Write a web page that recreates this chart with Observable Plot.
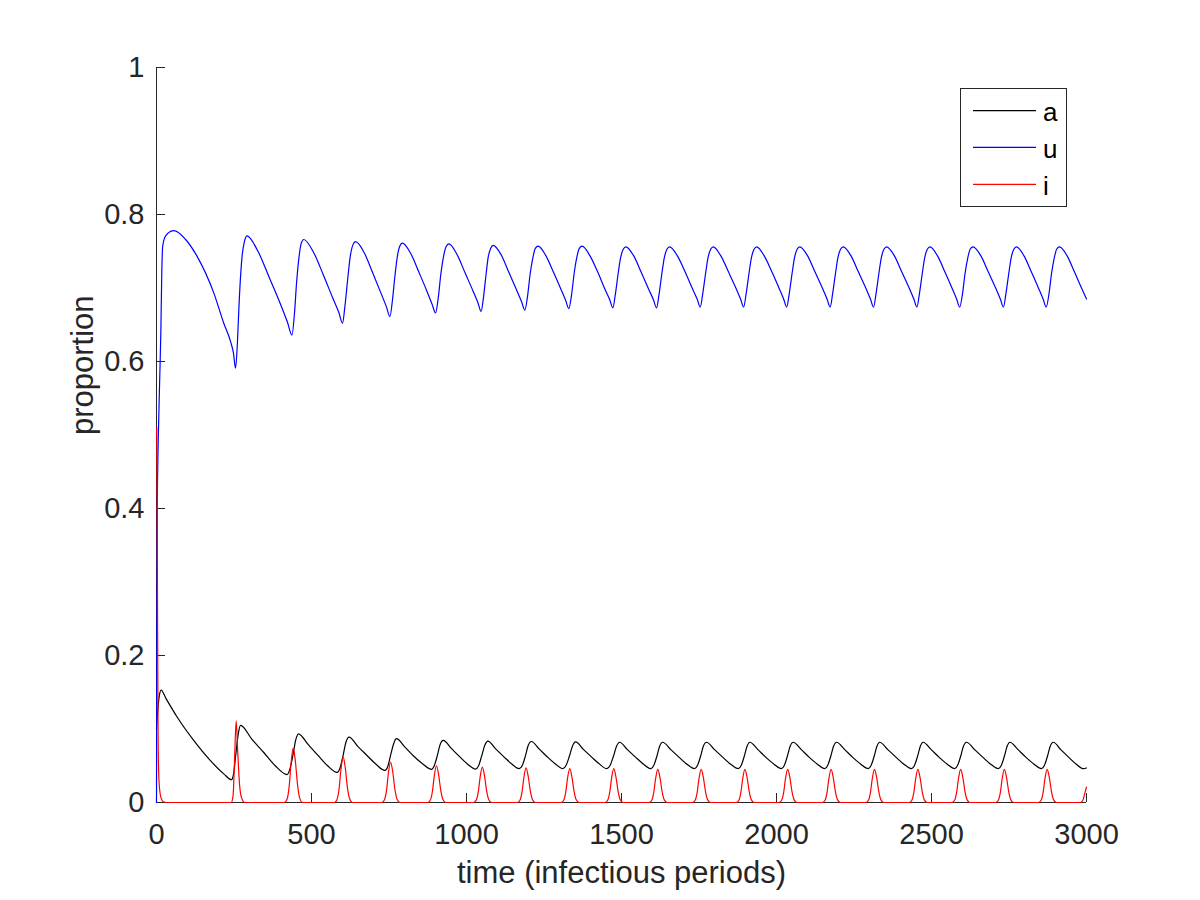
<!DOCTYPE html>
<html>
<head>
<meta charset="utf-8">
<script src="https://cdn.jsdelivr.net/npm/d3@7"></script>
<script src="https://cdn.jsdelivr.net/npm/@observablehq/plot@0.6"></script>
<style>
  body { margin: 0; background: #fff; }
  #wrap { position: relative; width: 1200px; height: 900px; background: #fff; font-family: "Liberation Sans", Arial, Helvetica, sans-serif; }
  #legend { position: absolute; left: 960px; top: 88px; width: 105px; height: 117px; border: 1px solid #262626; background: #fff; }
  #legend svg { display: block; }
</style>
</head>
<body>
<div id="wrap"><div id="legend"></div></div>
<script>
const timeTicks = [0, 500, 1000, 1500, 2000, 2500, 3000];
const propTicks = [0, 0.2, 0.4, 0.6, 0.8, 1];
const seriesNames = ["a", "u", "i"];
const seriesColors = ["#000000", "#0000ff", "#ff0000"];
const xLabel = "time (infectious periods)";
const yLabel = "proportion";

// a (black): [time, proportion]
const aPoints = [
  [0,0.100],[4,0.125],[9,0.145],[15,0.153],[30,0.142],[67,0.116],[120,0.0845],[174,0.057],[217,0.039],[242,0.031],
  [249,0.040],[256,0.066],[264,0.094],[271,0.105],
  [308,0.086],[346,0.068],[383,0.050],[421,0.038],
  [430,0.045],[440,0.064],[449,0.085],[458,0.0935],
  [489,0.079],[521,0.064],[552,0.050],[583,0.041],
  [592,0.047],[602,0.064],[611,0.082],[621,0.089],
  [650,0.076],[679,0.064],[708,0.052],[737,0.0436],
  [746,0.049],[755,0.064],[765,0.080],[774,0.0868],
  [802,0.075],[830,0.063],[859,0.0525],[887,0.045],
  [896,0.050],[906,0.064],[915,0.079],[925,0.0845],
  [951,0.0736],[977,0.0627],[1003,0.0525],[1029,0.0455],
  [1039,0.050],[1049,0.0634],[1059,0.0778],[1069,0.0835],
  [1094,0.073],[1120,0.0625],[1145,0.0527],[1170,0.046],
  [1180,0.0504],[1190,0.0634],[1199,0.0775],[1209,0.083],
  [1235,0.0726],[1260,0.0623],[1286,0.0527],[1311,0.046],
  [1321,0.0504],[1332,0.0632],[1342,0.077],[1352,0.0825],
  [1377,0.0723],[1403,0.0621],[1428,0.0526],[1453,0.046],
  [1463,0.0503],[1474,0.0629],[1484,0.0766],[1494,0.082],
  [1519,0.0719],[1545,0.0618],[1570,0.0525],[1595,0.046],
  [1604,0.0503],[1614,0.0629],[1623,0.0766],[1633,0.082],
  [1659,0.0719],[1685,0.0618],[1710,0.0525],[1736,0.046],
  [1745,0.0503],[1755,0.0629],[1764,0.0766],[1774,0.082],
  [1800,0.0719],[1826,0.0618],[1851,0.0525],[1877,0.046],
  [1886,0.0503],[1896,0.0629],[1905,0.0766],[1914,0.082],
  [1940,0.0719],[1965,0.0618],[1991,0.0525],[2016,0.046],
  [2025,0.0503],[2035,0.0629],[2044,0.0766],[2054,0.082],
  [2080,0.0719],[2105,0.0618],[2131,0.0525],[2156,0.046],
  [2165,0.0503],[2175,0.0629],[2184,0.0766],[2194,0.082],
  [2220,0.0719],[2245,0.0618],[2271,0.0525],[2296,0.046],
  [2305,0.0503],[2315,0.0629],[2324,0.0766],[2333,0.082],
  [2359,0.0719],[2385,0.0618],[2410,0.0525],[2436,0.046],
  [2445,0.0503],[2455,0.0629],[2464,0.0766],[2473,0.082],
  [2499,0.0719],[2524,0.0618],[2550,0.0525],[2575,0.046],
  [2584,0.0503],[2594,0.0629],[2603,0.0766],[2613,0.082],
  [2639,0.0719],[2665,0.0618],[2690,0.0525],[2716,0.046],
  [2725,0.0503],[2735,0.0629],[2744,0.0766],[2753,0.082],
  [2779,0.0719],[2804,0.0618],[2830,0.0525],[2855,0.046],
  [2864,0.0503],[2874,0.0629],[2883,0.0766],[2893,0.082],
  [2917,0.0719],[2942,0.0618],[2966,0.0525],[2990,0.046],[3000,0.047]
];

// u (blue)
const uPoints = [
  [0,0.0],[2,0.38],[6,0.50],[10,0.57],[14,0.64],[17,0.72],[20,0.757],[27,0.769],[38,0.775],[56,0.778],
  [94,0.766],[131,0.743],[185,0.693],[217,0.652],[239,0.627],[248,0.612],[255,0.591],
  [261,0.625],[266,0.675],[276,0.743],[284,0.764],[292,0.771],
  [326,0.751],[364,0.714],[401,0.677],[422,0.654],[437,0.636],
  [445,0.665],[452,0.708],[460,0.743],[467,0.761],[475,0.766],
  [506,0.749],[538,0.718],[569,0.686],[588,0.667],[600,0.652],
  [608,0.676],[617,0.713],[625,0.743],[634,0.759],[642,0.763],
  [670,0.748],[698,0.720],[725,0.692],[742,0.674],[753,0.661],
  [761,0.683],[769,0.716],[777,0.743],[785,0.757],[793,0.761],
  [820,0.747],[847,0.721],[873,0.695],[889,0.678],[900,0.666],
  [909,0.687],[917,0.718],[926,0.743],[934,0.756],[943,0.760],
  [969,0.746],[995,0.721],[1021,0.696],[1037,0.680],[1047,0.668],
  [1055,0.688],[1063,0.718],[1070,0.742],[1078,0.754],[1086,0.758],
  [1112,0.745],[1137,0.721],[1163,0.696],[1178,0.681],[1188,0.670],
  [1197,0.689],[1205,0.718],[1214,0.741],[1222,0.754],[1231,0.757],
  [1256,0.744],[1281,0.721],[1305,0.698],[1320,0.683],[1330,0.672],
  [1339,0.691],[1347,0.719],[1356,0.742],[1364,0.754],[1373,0.757],
  [1398,0.744],[1423,0.722],[1447,0.698],[1462,0.684],[1472,0.673],
  [1480,0.691],[1489,0.719],[1497,0.741],[1506,0.753],[1514,0.756],
  [1539,0.744],[1564,0.721],[1588,0.698],[1603,0.684],[1613,0.673],
  [1621,0.691],[1630,0.719],[1638,0.741],[1647,0.753],[1655,0.756],
  [1680,0.744],[1705,0.722],[1729,0.699],[1744,0.685],[1754,0.674],
  [1762,0.692],[1771,0.719],[1779,0.741],[1788,0.753],[1796,0.756],
  [1820,0.744],[1845,0.722],[1870,0.699],[1884,0.685],[1894,0.674],
  [1902,0.692],[1911,0.719],[1919,0.741],[1928,0.753],[1936,0.756],
  [1960,0.744],[1985,0.722],[2009,0.699],[2023,0.685],[2033,0.674],
  [2041,0.692],[2050,0.719],[2058,0.741],[2067,0.753],[2075,0.756],
  [2100,0.744],[2124,0.722],[2149,0.699],[2163,0.685],[2173,0.674],
  [2181,0.692],[2190,0.719],[2198,0.741],[2207,0.753],[2215,0.756],
  [2240,0.744],[2264,0.722],[2289,0.699],[2303,0.685],[2313,0.674],
  [2321,0.692],[2330,0.719],[2338,0.741],[2347,0.753],[2355,0.756],
  [2380,0.744],[2404,0.722],[2429,0.699],[2443,0.685],[2453,0.674],
  [2461,0.692],[2470,0.719],[2478,0.741],[2487,0.753],[2495,0.756],
  [2519,0.744],[2543,0.722],[2567,0.699],[2581,0.685],[2591,0.674],
  [2600,0.692],[2608,0.719],[2617,0.741],[2625,0.753],[2634,0.756],
  [2659,0.744],[2683,0.722],[2708,0.699],[2722,0.685],[2732,0.674],
  [2740,0.692],[2749,0.719],[2757,0.741],[2766,0.753],[2774,0.756],
  [2798,0.744],[2822,0.722],[2846,0.699],[2860,0.685],[2870,0.674],
  [2879,0.692],[2887,0.719],[2896,0.741],[2904,0.753],[2913,0.756],
  [2937,0.744],[2961,0.722],[2985,0.699],[3000,0.685]
];

// i (red)
const iPoints = [
  [0,0.50],[1,0.51],[3,0.30],[5,0.10],[7,0.04],[10,0.018],[15,0.006],[22,0.001],[32,0],
  [241,0],[247,0.009],[252,0.061],[257,0.111],[262,0.069],[268,0.024],[274,0.007],[285,0],
  [413,0],[421,0.0044],[428,0.022],[434,0.053],[441,0.074],[448,0.056],[455,0.024],[462,0.006],[471,0],
  [574,0],[582,0.0037],[589,0.019],[595,0.045],[602,0.062],[609,0.047],[616,0.020],[623,0.005],[632,0],
  [727,0],[735,0.0033],[742,0.0165],[748,0.040],[755,0.055],[762,0.042],[769,0.018],[776,0.0044],[785,0],
  [875,0],[883,0.003],[890,0.015],[896,0.036],[903,0.050],[910,0.038],[917,0.0165],[924,0.004],[933,0],
  [1023,0],[1031,0.0029],[1038,0.0144],[1044,0.0346],[1051,0.048],[1058,0.0365],[1065,0.0158],[1072,0.0038],[1081,0],
  [1164,0],[1172,0.0028],[1179,0.0141],[1185,0.0338],[1192,0.047],[1199,0.0357],[1206,0.0155],[1213,0.0038],[1222,0],
  [1305,0],[1313,0.0028],[1320,0.0138],[1326,0.0331],[1333,0.046],[1340,0.035],[1347,0.0152],[1354,0.0037],[1363,0],
  [1447,0],[1455,0.0028],[1462,0.0138],[1468,0.0331],[1475,0.046],[1482,0.035],[1489,0.0152],[1496,0.0037],[1505,0],
  [1589,0],[1597,0.0027],[1604,0.0135],[1610,0.0324],[1617,0.045],[1624,0.0342],[1631,0.0149],[1638,0.0036],[1647,0],
  [1729,0],[1737,0.0027],[1744,0.0135],[1750,0.0324],[1757,0.045],[1764,0.0342],[1771,0.0149],[1778,0.0036],[1787,0],
  [1870,0],[1878,0.0027],[1885,0.0135],[1891,0.0324],[1898,0.045],[1905,0.0342],[1912,0.0149],[1919,0.0036],[1928,0],
  [2008,0],[2016,0.0027],[2023,0.0135],[2029,0.0324],[2036,0.045],[2043,0.0342],[2050,0.0149],[2057,0.0036],[2066,0],
  [2148,0],[2156,0.0027],[2163,0.0135],[2169,0.0324],[2176,0.045],[2183,0.0342],[2190,0.0149],[2197,0.0036],[2206,0],
  [2288,0],[2296,0.0027],[2303,0.0135],[2309,0.0324],[2316,0.045],[2323,0.0342],[2330,0.0149],[2337,0.0036],[2346,0],
  [2428,0],[2436,0.0027],[2443,0.0135],[2449,0.0324],[2456,0.045],[2463,0.0342],[2470,0.0149],[2477,0.0036],[2486,0],
  [2566,0],[2574,0.0027],[2581,0.0135],[2587,0.0324],[2594,0.045],[2601,0.0342],[2608,0.0149],[2615,0.0036],[2624,0],
  [2707,0],[2715,0.0027],[2722,0.0135],[2728,0.0324],[2735,0.045],[2742,0.0342],[2749,0.0149],[2756,0.0036],[2765,0],
  [2845,0],[2853,0.0027],[2860,0.0135],[2866,0.0324],[2873,0.045],[2880,0.0342],[2887,0.0149],[2894,0.0036],[2903,0],
  [2980,0],[2988,0.0027],[2995,0.0135],[3000,0.021]
];

const seriesPoints = [aPoints, uPoints, iPoints];
const axisColor = "#262626";
const font = '"Liberation Sans", Arial, Helvetica, sans-serif';

const lineMarks = seriesPoints.map((pts, k) =>
  Plot.line(pts, {x: d => d[0], y: d => d[1], stroke: seriesColors[k], strokeWidth: 1.2, curve: "monotone-x"})
);

const chart = Plot.plot({
  width: 1200,
  height: 900,
  marginLeft: 156,
  marginRight: 114,
  marginTop: 67,
  marginBottom: 98,
  x: {domain: [0, 3000]},
  y: {domain: [0, 1]},
  style: {fontFamily: font, background: "#fff", color: axisColor},
  marks: [
    Plot.ruleX([0], {stroke: axisColor, strokeWidth: 1}),
    Plot.ruleY([0], {stroke: axisColor, strokeWidth: 1}),
    Plot.tickX(timeTicks, {x: d => d, stroke: axisColor, insetTop: 726}),
    Plot.tickY(propTicks, {y: d => d, stroke: axisColor, insetRight: 921}),
    Plot.axisX(timeTicks, {tickSize: 0, tickPadding: 21, tickFormat: d => String(d), fontSize: 29, fill: axisColor, label: null}),
    Plot.axisY(propTicks, {tickSize: 0, tickPadding: 12, tickFormat: d => String(d), fontSize: 29, fill: axisColor, label: null}),
    ...lineMarks,
    Plot.text([xLabel], {text: d => d, frameAnchor: "bottom", lineAnchor: "bottom", dy: 80, fontSize: 31, fill: axisColor}),
    Plot.text([yLabel], {text: d => d, frameAnchor: "left", lineAnchor: "bottom", rotate: -90, dx: -64, fontSize: 31, fill: axisColor})
  ]
});

const wrap = document.getElementById("wrap");
wrap.insertBefore(chart, wrap.firstChild);

// Legend (inside the axes box, top right)
const legend = d3.select("#legend").append("svg").attr("width", 105).attr("height", 117);
const rowY = [21.7, 58.3, 95.3];
seriesNames.forEach((name, k) => {
  legend.append("line").attr("x1", 12).attr("x2", 75).attr("y1", rowY[k]).attr("y2", rowY[k])
    .attr("stroke", seriesColors[k]).attr("stroke-width", 1.2);
  legend.append("text").attr("x", 82).attr("y", rowY[k] + 10.5).attr("font-size", 26)
    .attr("font-family", font).attr("fill", "#000").text(name);
});
</script>
</body>
</html>
